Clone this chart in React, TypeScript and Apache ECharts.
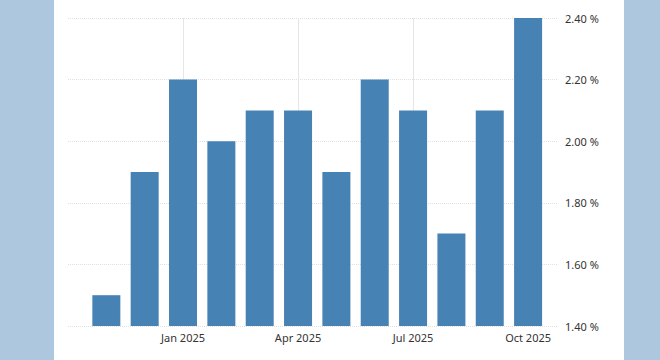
import React, { useEffect, useRef } from "react";
import * as echarts from "echarts";

const months = ["Nov 2024", "Dec 2024", "Jan 2025", "Feb 2025", "Mar 2025", "Apr 2025", "May 2025", "Jun 2025", "Jul 2025", "Aug 2025", "Sep 2025", "Oct 2025"];
const values = [1.5, 1.9, 2.2, 2.0, 2.1, 2.1, 1.9, 2.2, 2.1, 1.7, 2.1, 2.4];
const tickLabels: Record<number, string> = { 3: "Jan 2025", 6: "Apr 2025", 9: "Jul 2025", 12: "Oct 2025" };

export default function App() {
  const ref = useRef<HTMLDivElement>(null);
  useEffect(() => {
    if (!ref.current) return;
    const chart = echarts.init(ref.current, null, { renderer: "svg" });
    const data = values.map((v, i) => [i + 1, v]);
    chart.setOption({
      animation: false,
      grid: { left: 14, right: 66, top: 18, bottom: 34 },
      xAxis: {
        type: "value",
        min: 0,
        max: 12.78,
        interval: 3,
        axisLine: { show: false },
        axisTick: { show: false },
        axisLabel: {
          color: "#333",
          fontSize: 11,
          fontFamily: "Noto Sans",
          margin: 6,
          showMinLabel: false,
          showMaxLabel: false,
          formatter: (v: number) => tickLabels[v] || "",
        },
        splitLine: { show: true, showMinLine: false, showMaxLine: false, lineStyle: { color: "#e6e6e6", width: 1 } },
      },
      yAxis: {
        type: "value",
        position: "right",
        min: 1.4,
        max: 2.4,
        interval: 0.2,
        axisLine: { show: false },
        axisTick: { show: false },
        axisLabel: {
          color: "#333",
          fontSize: 11,
          fontFamily: "Noto Sans",
          margin: 7,
          formatter: (v: number) => v.toFixed(2) + " %",
        },
        splitLine: { show: true, lineStyle: { color: "#e0e0e0", type: "dotted", width: 1 } },
      },
      series: [
        {
          type: "bar",
          data,
          barWidth: 28,
          itemStyle: { color: "#4682b4" },
          name: "values",
        },
      ],
      tooltip: { show: false },
    });
    return () => chart.dispose();
  }, []);
  return (
    <div style={{ position: "fixed", left: 0, top: 0, width: 660, height: 360, background: "#adc8de" }}>
      <div ref={ref} style={{ position: "absolute", left: 54, top: 0, width: 570, height: 360, background: "#ffffff" }} />
    </div>
  );
}
